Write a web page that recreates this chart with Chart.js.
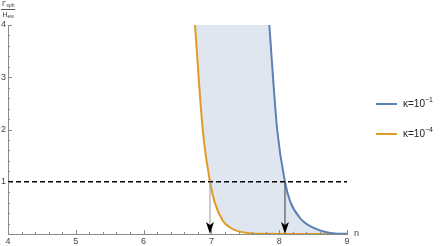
<!DOCTYPE html>
<html>
<head>
<meta charset="utf-8">
<script src="https://cdn.jsdelivr.net/npm/chart.js@4"></script>
<style>
  html,body{margin:0;padding:0;background:#fff;}
  #wrap{position:relative;width:443px;height:246px;}
  canvas{position:absolute;left:0;top:0;}
  .lg{position:absolute;font-family:"Liberation Sans",Arial,sans-serif;font-size:10px;color:#222;white-space:nowrap;}
  .lg .sw{display:inline-block;width:21px;height:2px;vertical-align:middle;margin-right:6px;}
  .lg sup{font-size:7px;vertical-align:5px;line-height:0;}
  #ylab{position:absolute;left:1px;top:0px;font-family:"Liberation Sans",Arial,sans-serif;color:#444;text-align:center;line-height:1;}
  #ylab .num{font-size:8px;padding:0 1px 1px 1px;border-bottom:1px solid #555;}
  #ylab .den{font-size:7px;padding-top:1px;}
  #ylab sub{font-size:5px;vertical-align:-1px;line-height:0;}
  #nlab{position:absolute;left:354px;top:228px;font-family:"Liberation Sans",Arial,sans-serif;font-size:9px;color:#444;}
</style>
</head>
<body>
<div id="wrap">
  <canvas id="c" width="443" height="246"></canvas>
  <div id="ylab"><div class="num">Γ<sub>sph</sub></div><div class="den">H<sub>ew</sub></div></div>
  <div id="nlab">n</div>
  <div class="lg" style="left:376px;top:98px;"><span class="sw" style="background:#5e81b5"></span>κ=10<sup>−1</sup></div>
  <div class="lg" style="left:376px;top:128px;"><span class="sw" style="background:#e19c24"></span>κ=10<sup>−4</sup></div>
</div>
<script>
// ---- data ----
const blueN   = [7.854, 7.97, 8.085, 8.16, 8.31, 8.5, 8.75, 9.0];
const blueV   = [4, 2, 1, 0.63, 0.3, 0.12, 0.02, 0.003];
const orangeN = [6.758, 6.872, 6.979, 7.05, 7.17, 7.27, 7.38, 7.57, 7.8, 8.2, 9.0];
const orangeV = [4, 2, 1, 0.6, 0.25, 0.13, 0.06, 0.015, 0.003, 0.0005, 0];
const refN    = [4, 9];
const refV    = [1, 1];
const arrowN  = [6.979, 8.085];
const arrowColors = ['#a8a8a8', '#555555'];
const xTicks  = [4, 5, 6, 7, 8, 9];
const yTicks  = [1, 2, 3, 4];

const pts = (xs, ys) => xs.map((x, i) => ({x, y: ys[i]}));
// region between the two curves: orange curve, then blue curve walked back
const bandPts = pts(orangeN, orangeV).concat(pts(blueN, blueV).slice(0, -1).reverse());

const tickPlugin = {
  id: 'inTicks',
  afterDraw(chart) {
    const ctx = chart.ctx, xs = chart.scales.x, ys = chart.scales.y;
    ctx.save();
    ctx.strokeStyle = '#8a8a8a';
    ctx.lineWidth = 1;
    const y0 = ys.getPixelForValue(0), x0 = xs.getPixelForValue(4);
    for (let v = 4; v <= 9.0001; v += 0.2) {
      const px = Math.round(xs.getPixelForValue(v)) + 0.5;
      const major = Math.abs(v - Math.round(v)) < 1e-6;
      ctx.beginPath(); ctx.moveTo(px, y0); ctx.lineTo(px, y0 - (major ? 4 : 2)); ctx.stroke();
    }
    for (let v = 0; v <= 4.0001; v += 0.2) {
      const py = Math.round(ys.getPixelForValue(v)) + 0.5;
      const major = Math.abs(v - Math.round(v)) < 1e-6;
      ctx.beginPath(); ctx.moveTo(x0, py); ctx.lineTo(x0 + (major ? 4 : 2), py); ctx.stroke();
    }
    // arrows
    arrowN.forEach((n, i) => {
      const px = xs.getPixelForValue(n);
      const top = ys.getPixelForValue(1), bot = ys.getPixelForValue(0);
      ctx.strokeStyle = arrowColors[i];
      ctx.lineWidth = 1.2;
      ctx.beginPath(); ctx.moveTo(px, top); ctx.lineTo(px, bot - 8); ctx.stroke();
      ctx.fillStyle = '#000';
      ctx.beginPath();
      ctx.moveTo(px, bot);
      ctx.lineTo(px - 4, bot - 12);
      ctx.lineTo(px, bot - 9);
      ctx.lineTo(px + 4, bot - 12);
      ctx.closePath();
      ctx.fill();
    });
    ctx.restore();
  }
};

new Chart(document.getElementById('c'), {
  type: 'scatter',
  data: {
    datasets: [
      { data: pts(blueN, blueV), showLine: true, borderColor: '#5e81b5', borderWidth: 2,
        pointRadius: 0, cubicInterpolationMode: 'monotone', fill: false, order: 1 },
      { data: pts(orangeN, orangeV), showLine: true, borderColor: '#e19c24', borderWidth: 2,
        pointRadius: 0, cubicInterpolationMode: 'monotone', fill: false, order: 2 },
      { data: bandPts, showLine: true, borderWidth: 0, borderColor: 'rgba(0,0,0,0)',
        pointRadius: 0, cubicInterpolationMode: 'monotone', fill: 'shape',
        backgroundColor: 'rgba(94,129,181,0.2)', order: 3 },
      { data: pts(refN, refV), showLine: true, borderColor: '#000', borderWidth: 1.5,
        borderDash: [5, 3], pointRadius: 0, fill: false, order: 0 }
    ]
  },
  options: {
    responsive: false,
    animation: false,
    events: [],
    layout: { padding: { left: 0, right: 96, top: 25, bottom: 0 } },
    plugins: { legend: { display: false }, tooltip: { enabled: false } },
    scales: {
      x: {
        type: 'linear', min: 4, max: 9,
        afterFit(s) { s.height = 12; },
        afterBuildTicks(s) { s.ticks = xTicks.map(v => ({value: v})); },
        grid: { display: false, drawTicks: false },
        border: { display: true, color: '#8a8a8a', width: 1 },
        ticks: { padding: 2, color: '#444', font: { family: 'Liberation Sans', size: 9 }, maxRotation: 0, autoSkip: false }
      },
      y: {
        type: 'linear', min: 0, max: 4,
        afterFit(s) { s.width = 8; },
        afterBuildTicks(s) { s.ticks = yTicks.map(v => ({value: v})); },
        grid: { display: false, drawTicks: false },
        border: { display: true, color: '#8a8a8a', width: 1 },
        ticks: { padding: 2, color: '#444', font: { family: 'Liberation Sans', size: 9 } }
      }
    }
  },
  plugins: [tickPlugin]
});
</script>
</body>
</html>
